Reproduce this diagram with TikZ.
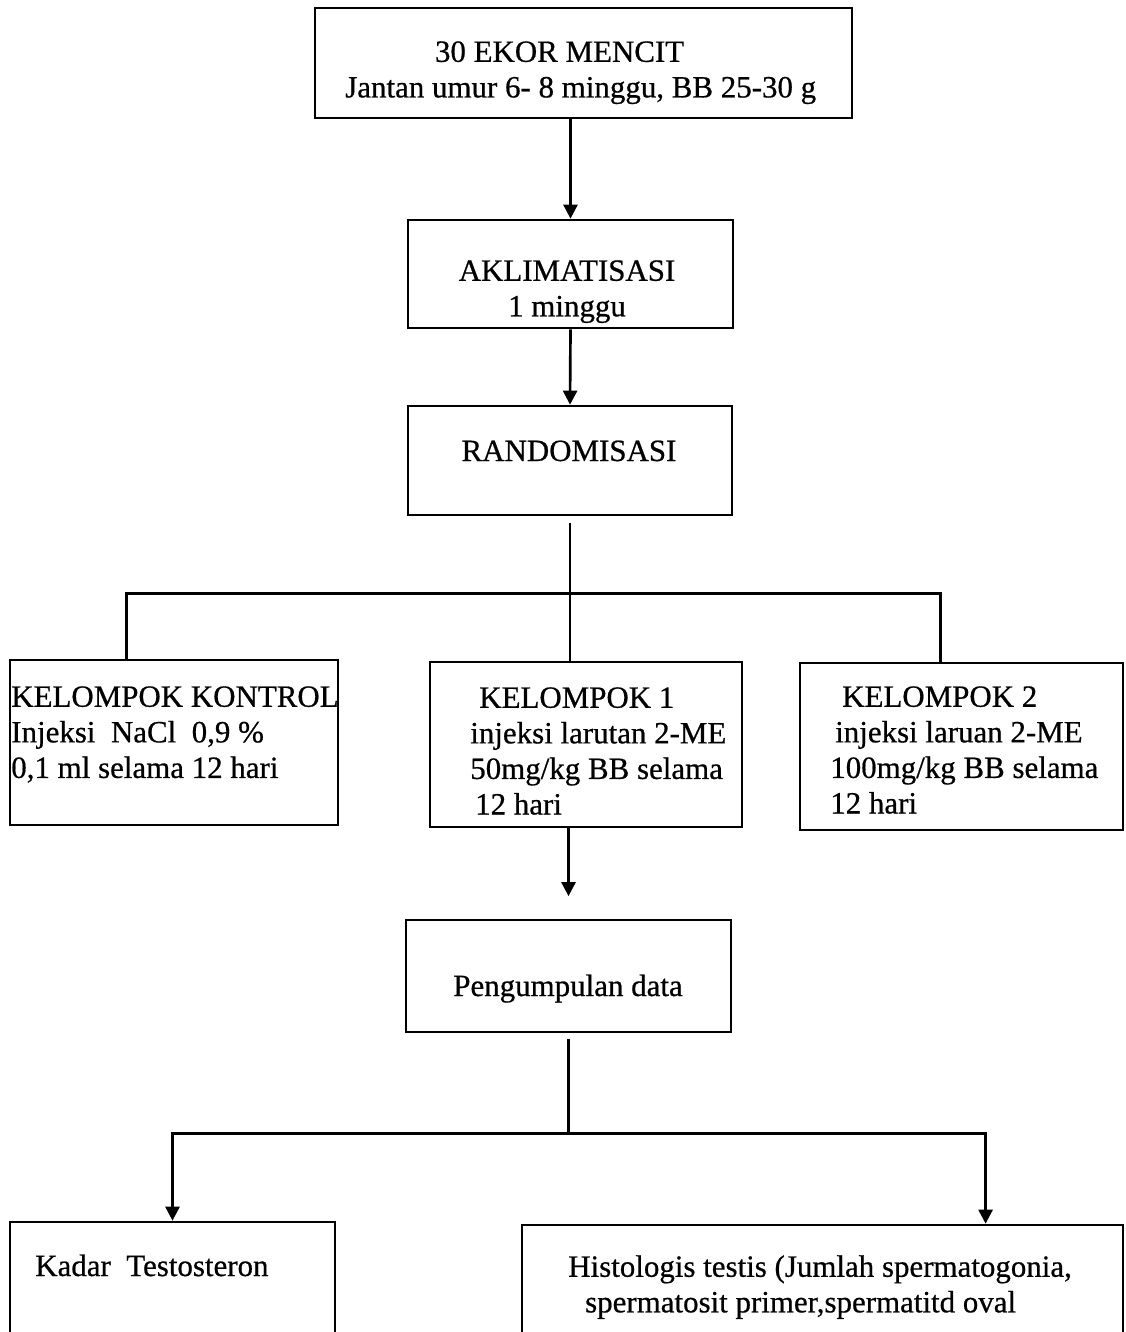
\documentclass[tikz,border=0pt]{standalone}
\usepackage{fontspec}
\setmainfont{Liberation Serif}[FakeBold=0.6]
\usetikzlibrary{arrows.meta,calc}

\tikzset{
  kotak/.style={draw, line width=1.9pt, inner sep=0pt},
  teks/.style={font=\fontsize{22}{25.3}\selectfont, inner sep=0pt},
  garis/.style={line width=1.9pt},
  panah/.style={garis, -{Triangle[length=10pt,width=10pt]}}
}

\begin{document}
\begin{tikzpicture}[x=0.025cm, y=-0.025cm]
\useasboundingbox[fill=white] (0,0) rectangle (1125,1332);

% ================= KOTAK ALUR ATAS =================
\node[kotak, minimum width=13.425cm, minimum height=2.75cm] (mencit) at (583.5,63) {};
\node[kotak, minimum width=8.125cm, minimum height=2.7cm] (aklim) at (570.5,274) {};
\node[kotak, minimum width=8.1cm, minimum height=2.725cm] (random) at (570,460.5) {};

% ================= KELOMPOK =================
\node[kotak, minimum width=8.2cm, minimum height=4.125cm] (kontrol) at (174,742.5) {};
\node[kotak, minimum width=7.8cm, minimum height=4.125cm] (klp1) at (586,744.5) {};
\node[kotak, minimum width=8.075cm, minimum height=4.175cm] (klp2) at (961.5,746.5) {};

% ================= DATA & HASIL =================
\node[kotak, minimum width=8.125cm, minimum height=2.8cm] (data) at (568.5,976) {};
\node[kotak, minimum width=8.125cm, minimum height=2.8cm] (kadar) at (172.5,1278) {};
\node[kotak, minimum width=15.025cm, minimum height=2.725cm] (histo) at (822.5,1279.5) {};

% Teks
\node[teks, anchor=north west, align=left] (t-mencit) at (345,41)
{\hspace*{63.8pt}30 EKOR MENCIT\\Jantan umur 6- 8 minggu, BB 25-30 g};
\node[teks, anchor=north, align=center] (t-aklim) at (567,260)
{AKLIMATISASI\\1 minggu};
\node[teks, anchor=base] (t-random) at (569,461) {RANDOMISASI};
\node[teks, anchor=north west, align=left] (t-kontrol) at (11,686)
{KELOMPOK KONTROL\\Injeksi\ \ NaCl\ \ 0,9 \%\\0,1 ml selama 12 hari};
\node[teks, anchor=north west, align=left] (t-klp1) at (470,687)
{\hspace*{6.4pt}KELOMPOK 1\\injeksi larutan 2-ME\\50mg/kg BB selama\\\hspace*{3.5pt}12 hari};
\node[teks, anchor=north west, align=left] (t-klp2) at (830,686)
{\hspace*{8.5pt}KELOMPOK 2\\\hspace*{3.5pt}injeksi laruan 2-ME\\100mg/kg BB selama\\12 hari};
\node[teks, anchor=base] (t-data) at (568,996) {Pengumpulan data};
\node[teks, anchor=base west] (t-kadar) at (35,1276) {Kadar\ \ Testosteron};
\node[teks, anchor=north west, align=left] (t-histo) at (568,1255)
{Histologis testis (Jumlah spermatogonia,\\\hspace*{12pt}spermatosit primer,spermatitd oval};

% Panah alur
\draw[panah] (mencit.south -| aklim.north) -- (aklim.north);
\draw[panah] (aklim.south) -- (random.north);

% Percabangan ke kelompok
\coordinate (cabang) at ($(random.south)+(0,77)$);
\draw[garis, shorten <=5pt] (random.south) -- (random.south |- klp1.north);
\draw[garis] (kontrol.north west) ++(118,0) |- (cabang) -| ($(klp2.north west)+(142,0)$);

\draw[panah, shorten >=16pt] (data.north |- klp1.south) -- (data.north);

% Percabangan ke hasil
\coordinate (cabang2) at ($(data.south)+(0,100)$);
\draw[garis, shorten <=4pt] (data.south) -- (cabang2);
\draw[panah] (cabang2) -| (kadar.north);
\draw[panah] (cabang2) -| ($(histo.north west)+(465,0)$);

\end{tikzpicture}
\end{document}
